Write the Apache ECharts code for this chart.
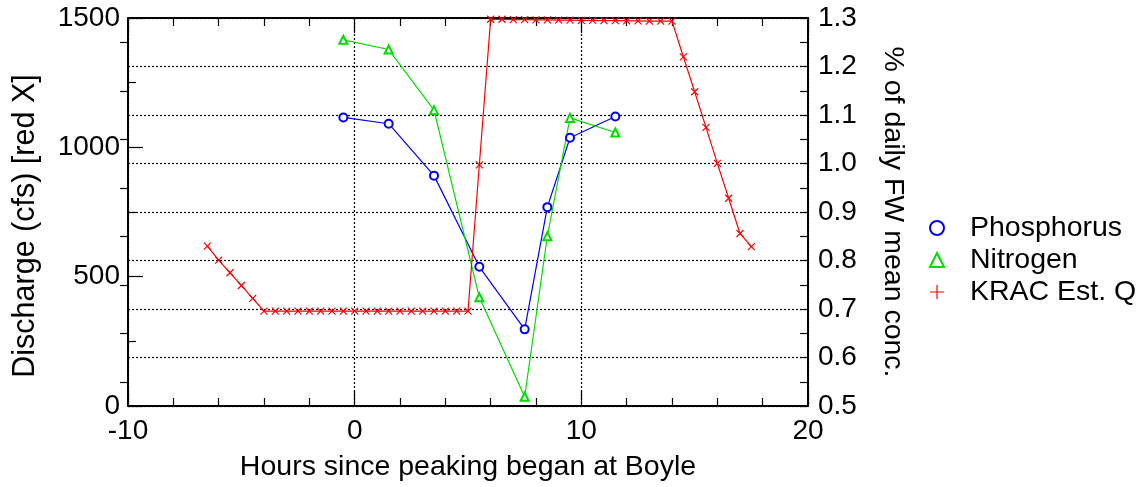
<!DOCTYPE html>
<html>
<head>
<meta charset="utf-8">
<script src="https://cdn.jsdelivr.net/npm/echarts@6/dist/echarts.min.js"></script>
<style>html,body{margin:0;padding:0;background:#fff}#c{width:1141px;height:487px}</style>
</head>
<body>
<div id="c"></div>
<script>
// ---- data ----
const krHours = [-6.5,-6,-5.5,-5,-4.5,-4,-3.5,-3,-2.5,-2,-1.5,-1,-0.5,0,0.5,1,1.5,2,2.5,3,3.5,4,4.5,5,5.5,6,6.5,7,7.5,8,8.5,9,9.5,10,10.5,11,11.5,12,12.5,13,13.5,14,14.5,15,15.5,16,16.5,17,17.5];
const krQ = [618,564,515,466,416,367,367,367,367,367,367,367,367,367,367,367,367,367,367,367,367,367,367,367,932,1495,1495,1494,1494,1493,1493,1492,1492,1491,1491,1490,1490,1489,1489,1488,1488,1488,1350,1215,1077,938,803,667,616];
const nutHours = [-0.5,1.5,3.5,5.5,7.5,8.5,9.5,11.5];
const phosphorus = [1.095,1.082,0.975,0.787,0.658,0.910,1.053,1.097];
const nitrogen = [1.255,1.235,1.110,0.724,0.519,0.850,1.094,1.064];
const seriesNames = ['Phosphorus','Nitrogen','KRAC Est. Q'];
const xTitle = 'Hours since peaking began at Boyle';
const yLeftTitle = 'Discharge (cfs) [red X]';
const yRightTitle = '% of daily FW mean conc.';

const FONT = 'Liberation Sans, Arial, sans-serif';
const TICK_FS = 28, TITLE_FS = 28.5;
const pairs = (xs, ys) => xs.map((x, i) => [x, ys[i]]);
const dotted = {color:'#000', width:1.2, type:[2,2]};
const xMark = 'path://M0,0L10,10M10,0L0,10';
const plusMark = 'path://M5,0L5,10M0,5L10,5';

const chart = echarts.init(document.getElementById('c'), null, {renderer:'canvas'});
const tickLabel = {color:'#000', fontFamily:FONT, fontSize:TICK_FS};
const titleStyle = {fontFamily:FONT, fontSize:TITLE_FS, color:'#000'};
const axLine = {show:true, onZero:false, lineStyle:{color:'#000', width:2}};
chart.setOption({
  animation:false,
  grid:{left:128, right:333, top:18, bottom:81, containLabel:false},
  legend:{
    orient:'vertical', left:929, top:213, padding:0, itemGap:2,
    itemWidth:14, itemHeight:14,
    textStyle:{fontFamily:FONT, fontSize:TITLE_FS, color:'#000', padding:[0,0,0,21], lineHeight:30},
    data:[
      {name:seriesNames[0], icon:'emptyCircle'},
      {name:seriesNames[1], icon:'emptyTriangle'},
      {name:seriesNames[2], icon:plusMark, itemStyle:{color:'#ff0000', borderColor:'#ff0000', borderWidth:1.2}}
    ]
  },
  xAxis:[
    {type:'value', position:'bottom', min:-10, max:20, interval:10,
     name:xTitle, nameLocation:'middle', nameGap:47, nameTextStyle:titleStyle,
     axisLine:axLine,
     axisTick:{inside:true, length:15, lineStyle:{color:'#000', width:1.2}},
     minorTick:{show:true, splitNumber:5, length:8, lineStyle:{color:'#000', width:1.2}},
     axisLabel:Object.assign({margin:11}, tickLabel),
     splitLine:{show:true, lineStyle:dotted}},
    {type:'value', position:'top', min:-10, max:20, interval:10,
     axisLine:axLine,
     axisTick:{inside:true, length:15, lineStyle:{color:'#000', width:1.2}},
     minorTick:{show:true, splitNumber:5, length:8, lineStyle:{color:'#000', width:1.2}},
     axisLabel:{show:false}, splitLine:{show:false}}
  ],
  yAxis:[
    {type:'value', position:'left', min:0, max:1500, interval:500,
     name:yLeftTitle, nameLocation:'middle', nameGap:87, nameRotate:90,
     nameTextStyle:{fontFamily:FONT, fontSize:30.5, color:'#000', padding:[0,28,0,0]},
     axisLine:axLine,
     axisTick:{show:true, inside:true, length:15, lineStyle:{color:'#000', width:1.2}},
     minorTick:{show:true, splitNumber:2, length:8, lineStyle:{color:'#000', width:1.2}},
     axisLabel:Object.assign({margin:8, formatter:v=>String(v)}, tickLabel),
     splitLine:{show:false}},
    {type:'value', position:'right', min:0.5, max:1.3, interval:0.1,
     name:yRightTitle, nameLocation:'middle', nameGap:70, nameRotate:-90, nameTextStyle:titleStyle,
     axisLine:axLine,
     axisTick:{show:true, inside:true, length:8, lineStyle:{color:'#000', width:1.2}},
     minorTick:{show:true, splitNumber:2, length:8, lineStyle:{color:'#000', width:1.2}},
     axisLabel:Object.assign({margin:10, formatter:v=>v.toFixed(1)}, tickLabel),
     splitLine:{show:true, lineStyle:dotted}},
    {type:'value', position:'left', min:0.5, max:1.3, interval:0.1,
     axisLine:{show:false, onZero:false}, axisTick:{show:false}, axisLabel:{show:false}, splitLine:{show:false},
     minorTick:{show:true, splitNumber:2, length:8, lineStyle:{color:'#000', width:1.2}}}
  ],
  series:[
    {name:seriesNames[0], type:'line', xAxisIndex:0, yAxisIndex:1, data:pairs(nutHours, phosphorus),
     symbol:'emptyCircle', symbolSize:8, color:'#0000ff',
     lineStyle:{color:'#0000ff', width:1.2}, itemStyle:{color:'#0000ff', borderWidth:1.2}},
    {name:seriesNames[1], type:'line', xAxisIndex:0, yAxisIndex:1, data:pairs(nutHours, nitrogen),
     symbol:'emptyTriangle', symbolSize:8, color:'#00dd00',
     lineStyle:{color:'#00dd00', width:1.2}, itemStyle:{color:'#00dd00', borderWidth:1.2}},
    {name:seriesNames[2], type:'line', xAxisIndex:0, yAxisIndex:0, data:pairs(krHours, krQ),
     symbol:xMark, symbolSize:7, color:'#ff0000',
     lineStyle:{color:'#ff0000', width:1.2}, itemStyle:{color:'#ff0000', borderColor:'#ff0000', borderWidth:1.2}}
  ]
});
</script>
</body>
</html>
